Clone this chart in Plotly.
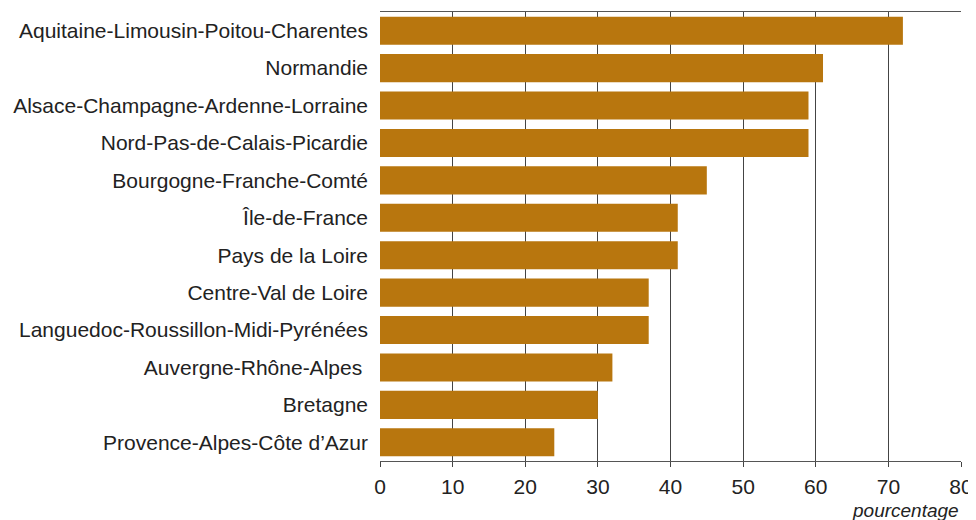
import plotly.graph_objects as go

regions = [
    "Aquitaine-Limousin-Poitou-Charentes",
    "Normandie",
    "Alsace-Champagne-Ardenne-Lorraine",
    "Nord-Pas-de-Calais-Picardie",
    "Bourgogne-Franche-Comté",
    "Île-de-France",
    "Pays de la Loire",
    "Centre-Val de Loire",
    "Languedoc-Roussillon-Midi-Pyrénées",
    "Auvergne-Rhône-Alpes\u00a0",
    "Bretagne",
    "Provence-Alpes-Côte d’Azur",
]
values = [72, 61, 59, 59, 45, 41, 41, 37, 37, 32, 30, 24]
x_ticks = [0, 10, 20, 30, 40, 50, 60, 70, 80]

fig = go.Figure(go.Bar(
    y=regions, x=values, orientation="h",
    marker=dict(color="#B8760E", line=dict(width=0)),
))

font = "Liberation Sans, Arial, sans-serif"
fig.update_layout(
    width=968, height=512,
    margin=dict(l=372, r=15, t=4, b=59),
    paper_bgcolor="white", plot_bgcolor="white",
    bargap=0.25,
    showlegend=False,
    font=dict(family=font, size=21, color="#222"),
)
fig.update_xaxes(
    range=[0, 80], tickvals=x_ticks, showgrid=True, gridcolor="#444", gridwidth=1,
    zeroline=False, showline=True, linecolor="#555", linewidth=1, mirror=True,
    ticks="outside", ticklen=5, tickcolor="#444", ticklabelstandoff=2,
    tickfont=dict(size=21, color="#222"),
)
fig.update_yaxes(
    autorange="reversed", showgrid=False, showline=False, ticks="",
    ticklabelstandoff=11, tickfont=dict(size=21, color="#222"),
)
fig.add_annotation(
    text="<i>pourcentage</i>", xref="paper", yref="paper", x=1.0, y=0,
    xanchor="right", yanchor="middle", yshift=-49, xshift=0, showarrow=False,
    font=dict(size=19, color="#222", family=font),
)
fig.write_html("out.html")
